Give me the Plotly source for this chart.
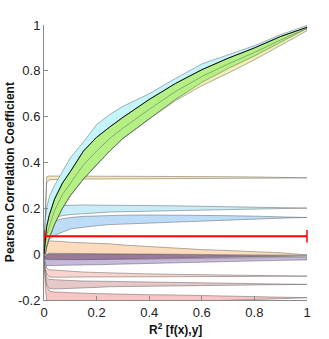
import plotly.graph_objects as go

# shared R^2 grid
r2 = [0, 0.005, 0.01, 0.02, 0.04, 0.07, 0.1, 0.15, 0.2, 0.25, 0.3, 0.4, 0.5, 0.6, 0.7, 0.8, 0.9, 1.0]

# rising cluster
cyan_hi = [0.0, 0.15, 0.20, 0.25, 0.30, 0.36, 0.42, 0.49, 0.565, 0.61, 0.645, 0.70, 0.767, 0.83, 0.87, 0.91, 0.958, 0.998]
cyan_lo = [0.0, 0.03, 0.07, 0.11, 0.18, 0.25, 0.30, 0.38, 0.44, 0.49, 0.54, 0.62, 0.71, 0.77, 0.83, 0.88, 0.935, 0.985]
green_hi = [0.0, 0.08, 0.12, 0.17, 0.24, 0.31, 0.36, 0.45, 0.51, 0.555, 0.597, 0.675, 0.745, 0.805, 0.855, 0.90, 0.95, 0.99]
green_lo = [0.0, 0.0, 0.03, 0.07, 0.13, 0.20, 0.255, 0.328, 0.39, 0.45, 0.505, 0.59, 0.675, 0.745, 0.80, 0.858, 0.92, 0.98]
green_mid = [0.0, 0.04, 0.08, 0.12, 0.19, 0.26, 0.31, 0.39, 0.45, 0.505, 0.55, 0.632, 0.71, 0.775, 0.83, 0.88, 0.935, 0.985]
yellow_hi = [0.0, 0.0, 0.03, 0.07, 0.13, 0.20, 0.255, 0.328, 0.39, 0.45, 0.505, 0.59, 0.675, 0.75, 0.81, 0.865, 0.925, 0.985]
yellow_lo = [0.0, 0.0, 0.03, 0.07, 0.13, 0.20, 0.255, 0.328, 0.39, 0.45, 0.505, 0.59, 0.67, 0.735, 0.79, 0.848, 0.912, 0.975]

# flat bands
tan_hi = [0.0, 0.20, 0.338, 0.341, 0.341, 0.340, 0.340, 0.340, 0.340, 0.340, 0.340, 0.340, 0.340, 0.339, 0.338, 0.337, 0.336, 0.334]
tan_lo = [0.0, 0.10, 0.310, 0.325, 0.327, 0.327, 0.327, 0.328, 0.328, 0.328, 0.328, 0.328, 0.328, 0.329, 0.330, 0.331, 0.332, 0.333]
lcyan_hi = [0.0, 0.10, 0.16, 0.19, 0.205, 0.212, 0.214, 0.215, 0.214, 0.214, 0.212, 0.212, 0.211, 0.209, 0.207, 0.206, 0.204, 0.202]
lcyan_lo = [0.0, 0.05, 0.10, 0.14, 0.16, 0.168, 0.173, 0.177, 0.18, 0.184, 0.187, 0.188, 0.19, 0.192, 0.194, 0.197, 0.199, 0.201]
blue_hi = [0.0, 0.05, 0.09, 0.12, 0.145, 0.155, 0.16, 0.165, 0.167, 0.168, 0.17, 0.171, 0.171, 0.17, 0.168, 0.166, 0.163, 0.161]
blue_lo = [0.0, 0.03, 0.05, 0.065, 0.082, 0.096, 0.11, 0.118, 0.124, 0.129, 0.132, 0.137, 0.141, 0.145, 0.149, 0.153, 0.157, 0.160]
peach_hi = [0.0, 0.03, 0.05, 0.058, 0.058, 0.055, 0.052, 0.05, 0.048, 0.045, 0.04, 0.033, 0.028, 0.02, 0.016, 0.012, 0.006, -0.003]
peach_lo = [0.0, -0.01, 0.0, 0.004, 0.005, 0.004, 0.004, 0.003, 0.003, 0.002, 0.002, 0.001, 0.0, -0.001, -0.002, -0.003, -0.004, -0.005]
plum_hi = [0.0, -0.005, 0.0, 0.002, 0.002, 0.002, 0.002, 0.002, 0.002, 0.002, 0.002, 0.0, 0.0, -0.002, -0.003, -0.004, -0.005, -0.006]
plum_lo = [0.0, -0.02, -0.022, -0.024, -0.024, -0.024, -0.024, -0.024, -0.023, -0.023, -0.022, -0.021, -0.02, -0.018, -0.015, -0.012, -0.01, -0.008]
mauve_hi = [0.0, -0.02, -0.022, -0.024, -0.024, -0.024, -0.024, -0.024, -0.023, -0.023, -0.022, -0.021, -0.02, -0.018, -0.016, -0.015, -0.014, -0.014]
mauve_lo = [0.0, -0.04, -0.05, -0.052, -0.05, -0.049, -0.048, -0.047, -0.046, -0.045, -0.044, -0.042, -0.04, -0.036, -0.033, -0.03, -0.027, -0.025]
salmon_hi = [0.0, -0.04, -0.06, -0.068, -0.07, -0.072, -0.075, -0.078, -0.08, -0.082, -0.083, -0.086, -0.088, -0.09, -0.091, -0.093, -0.094, -0.095]
salmon_lo = [0.0, -0.06, -0.085, -0.10, -0.102, -0.101, -0.10, -0.10, -0.10, -0.10, -0.099, -0.099, -0.098, -0.098, -0.097, -0.097, -0.096, -0.096]
rose_hi = [0.0, -0.07, -0.10, -0.11, -0.112, -0.114, -0.115, -0.117, -0.118, -0.119, -0.12, -0.122, -0.124, -0.125, -0.127, -0.128, -0.13, -0.131]
rose_lo = [0.0, -0.09, -0.13, -0.15, -0.152, -0.151, -0.15, -0.148, -0.145, -0.142, -0.14, -0.138, -0.137, -0.136, -0.135, -0.134, -0.133, -0.132]
pink_hi = [0.0, -0.10, -0.14, -0.16, -0.165, -0.167, -0.168, -0.17, -0.172, -0.174, -0.175, -0.177, -0.178, -0.18, -0.182, -0.184, -0.186, -0.189]
pink_lo = [0.0, -0.15, -0.20, -0.21, -0.21, -0.21, -0.21, -0.21, -0.21, -0.21, -0.21, -0.21, -0.21, -0.205, -0.20, -0.197, -0.194, -0.19]

ref_x = [0, 1]
ref_y = [0.078, 0.078]

xticks = [0, 0.2, 0.4, 0.6, 0.8, 1]
yticks = [-0.2, 0, 0.2, 0.4, 0.6, 0.8, 1]

EDGE = "rgba(80,80,80,0.75)"

fig = go.Figure()


def band(lo, hi, fill):
    fig.add_trace(go.Scatter(
        x=r2 + r2[::-1], y=hi + lo[::-1],
        fill="toself", fillcolor=fill, mode="lines",
        line=dict(color=EDGE, width=0.6),
        hoverinfo="skip", showlegend=False,
    ))


def curve(y, color, width=0.7):
    fig.add_trace(go.Scatter(
        x=r2, y=y, mode="lines", line=dict(color=color, width=width),
        hoverinfo="skip", showlegend=False,
    ))


band(pink_lo, pink_hi, "#f8c4c4")
band(rose_lo, rose_hi, "#e6c8c8")
band(salmon_lo, salmon_hi, "#f8d4cc")
band(mauve_lo, mauve_hi, "#c8b8dc")
band(plum_lo, plum_hi, "#9a7a9a")
band(peach_lo, peach_hi, "#fcdcbc")
band(blue_lo, blue_hi, "#bcdcf8")
band(lcyan_lo, lcyan_hi, "#c8ecf8")
band(tan_lo, tan_hi, "#f6e8b8")

band(cyan_lo, cyan_hi, "#c4f4fc")
band(green_lo, green_hi, "#b4f084")
band(yellow_lo, yellow_hi, "#f0f0b4")
curve(green_mid, "rgba(90,90,90,0.8)", 0.6)
curve(green_hi, "#101010", 1.0)

fig.add_trace(go.Scatter(
    x=ref_x, y=ref_y, mode="lines+markers",
    line=dict(color="#ff0000", width=2),
    marker=dict(symbol="line-ns", size=9, line=dict(color="#ff0000", width=1.5)),
    cliponaxis=False, hoverinfo="skip", showlegend=False,
))

axis_common = dict(
    showgrid=False, zeroline=False, showline=True, linecolor="#8a8a8a", linewidth=1,
    ticks="inside", ticklen=4, tickcolor="#8a8a8a", automargin=False,
    tickfont=dict(size=13, color="#222222"),
)

fig.update_layout(
    width=329, height=339,
    paper_bgcolor="white", plot_bgcolor="white",
    font=dict(family="Liberation Sans, Arial, sans-serif", color="#111111"),
    margin=dict(l=44, r=22, t=25, b=39),
    xaxis=dict(range=[0, 1], tickvals=xticks, ticktext=[f"{v:g}" for v in xticks], **axis_common),
    yaxis=dict(range=[-0.2, 1], tickvals=yticks, ticktext=[f"{v:g}" for v in yticks], **axis_common),
    annotations=[
        dict(text="<b>R<sup>2</sup> [f(x),y]</b>", xref="paper", yref="paper",
             x=0.5, y=0, yshift=-29, yanchor="middle", showarrow=False,
             font=dict(size=12, color="#111111")),
        dict(text="<b>Pearson Correlation Coefficient</b>", xref="paper", yref="paper",
             x=0, xshift=-34, y=0.465, textangle=-90, xanchor="center", yanchor="middle",
             showarrow=False, font=dict(size=12, color="#111111")),
    ],
)

# drop the browser's default body margin so the figure sits at the page corner
fig.write_html("out.html", config={"displayModeBar": False},
               post_script="document.body.style.margin='0';")
